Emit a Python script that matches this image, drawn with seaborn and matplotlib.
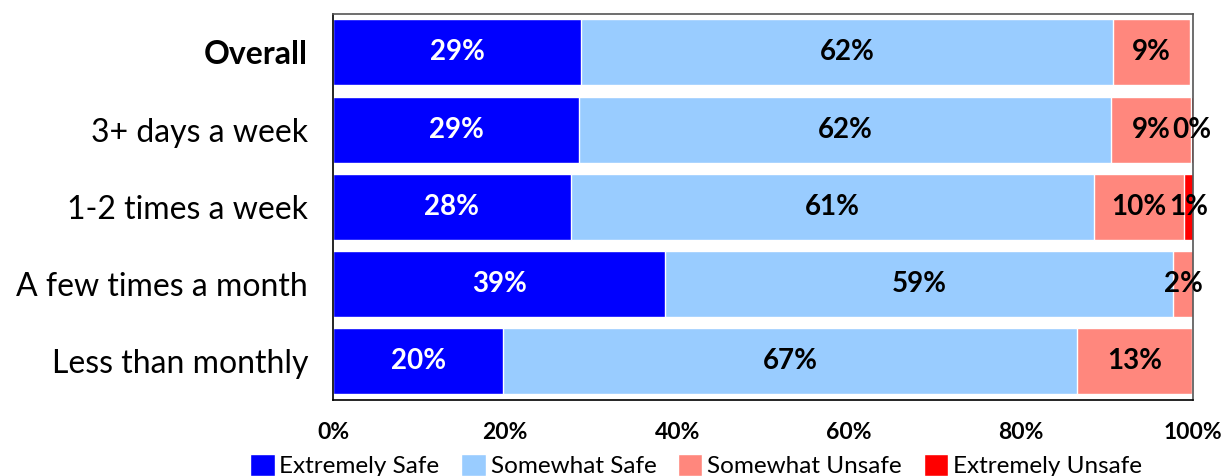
import numpy as np
import matplotlib
matplotlib.use("Agg")
import matplotlib.pyplot as plt
import pandas as pd
import seaborn as sns

groups = ["Overall", "3+ days a week", "1-2 times a week", "A few times a month", "Less than monthly"]
extremely_safe = [28.8, 28.6, 27.6, 38.6, 19.8]
somewhat_safe = [61.9, 61.9, 60.9, 59.1, 66.7]
somewhat_unsafe = [8.9, 9.2, 10.4, 2.3, 13.4]
extremely_unsafe = [0.0, 0.3, 1.1, 0.0, 0.0]

series_names = ["Extremely Safe", "Somewhat Safe", "Somewhat Unsafe", "Extremely Unsafe"]
colors = ["#0000FF", "#99CCFF", "#FF877D", "#FF0000"]
text_colors = ["white", "black", "black", "black"]
xticks = [0, 20, 40, 60, 80, 100]

sns.set_style("white")
plt.rcParams["font.family"] = ["Lato", "DejaVu Sans"]
plt.rcParams["text.color"] = "black"
plt.rcParams["xtick.color"] = "black"
plt.rcParams["ytick.color"] = "black"

vals = np.array([extremely_safe, somewhat_safe, somewhat_unsafe, extremely_unsafe])
cum = np.cumsum(vals, axis=0)

fig = plt.figure(figsize=(12.25, 4.76), dpi=100)
ax = fig.add_axes([0.272, 0.160, 0.702, 0.811])

# stacked look: draw cumulative totals, widest first
for i in range(3, -1, -1):
    df = pd.DataFrame({"group": groups, "value": cum[i]})
    sns.barplot(data=df, x="value", y="group", orient="h", color=colors[i],
                width=0.855, saturation=1, ax=ax, label=series_names[i])

# segment labels
for i in range(4):
    for j in range(len(groups)):
        v = vals[i][j]
        if i >= 2 and v == 0:
            continue
        start = cum[i][j] - v
        ax.text(start + v / 2, j, f"{round(v):.0f}%", ha="center", va="center",
                color=text_colors[i], fontsize=20, fontweight="bold")

ax.set_xlim(0, 100)
ax.set_xticks(xticks)
ax.set_xticklabels([f"{t}%" for t in xticks], fontsize=16.5, fontweight="bold")
ax.tick_params(axis="x", direction="in", length=5, width=1, pad=16, colors="black")
ax.tick_params(axis="y", length=0, pad=18, labelsize=23, colors="black")
for lab in ax.get_yticklabels():
    if lab.get_text() == "Overall":
        lab.set_fontweight("bold")
ax.set_xlabel("")
ax.set_ylabel("")

ax.spines["left"].set_color("black")
ax.spines["bottom"].set_color("black")
ax.spines["top"].set_color("#555555")
ax.spines["right"].set_color("#555555")
for s in ax.spines.values():
    s.set_linewidth(1.2)

handles, labels = ax.get_legend_handles_labels()
order = [labels.index(n) for n in series_names]
ax.legend([handles[k] for k in order], series_names, loc="upper center",
          bbox_to_anchor=(0.422, -0.14), ncol=4, frameon=False, fontsize=17.5,
          handlelength=1.0, handleheight=1.0, handletextpad=0.2, columnspacing=0.9,
          borderaxespad=0, borderpad=0)

fig.savefig("out.png", dpi=100)
